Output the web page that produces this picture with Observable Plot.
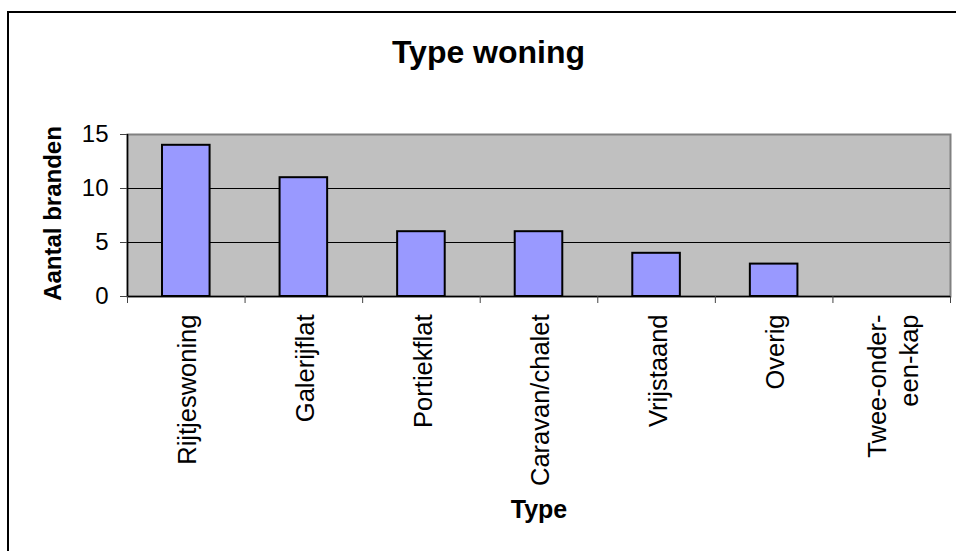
<!DOCTYPE html>
<html>
<head>
<meta charset="utf-8">
<script src="https://cdn.jsdelivr.net/npm/d3@7"></script>
<script src="https://cdn.jsdelivr.net/npm/@observablehq/plot@0.6"></script>
<style>
  html, body { margin: 0; padding: 0; background: #fff; overflow: hidden; }
  #wrap { position: relative; width: 956px; height: 551px; overflow: hidden; }
  #border { position: absolute; left: 7px; top: 11px; width: 1000px; height: 700px;
            border-left: 2px solid #000; border-top: 2px solid #000; box-sizing: border-box; }
  #title { position: absolute; left: 0; top: 36px; width: 977px; text-align: center;
           font: bold 32px "Liberation Sans", Arial, sans-serif; line-height: 32px; color: #000; }
  #chart { position: absolute; left: 0; top: 0; }
</style>
</head>
<body>
<div id="wrap">
  <div id="border"></div>
  <div id="chart"></div>
  <div id="title">Type woning</div>
</div>
<script>
const categories = ["Rijtjeswoning", "Galerijflat", "Portiekflat", "Caravan/chalet", "Vrijstaand", "Overig", "Twee-onder-\neen-kap"];
const counts = [14, 11, 6, 6, 4, 3, 0];
const yTicks = [0, 5, 10, 15];
const gridValues = [5, 10];
const yTitle = "Aantal branden";
const xTitle = "Type";

const rows = categories.map((c, i) => ({category: c, count: counts[i], i}));
const n = categories.length;

const chart = Plot.plot({
  width: 956,
  height: 551,
  marginLeft: 127,
  marginRight: 6,
  marginTop: 134,
  marginBottom: 255,
  style: {fontFamily: "'Liberation Sans', Arial, sans-serif", color: "#000", background: "transparent", overflow: "visible"},
  x: {domain: [0, n]},
  y: {domain: [0, 15]},
  marks: [
    Plot.frame({fill: "#c0c0c0", stroke: "#808080", strokeWidth: 2}),
    Plot.ruleY(gridValues, {stroke: "#000", strokeWidth: 1}),
    Plot.rectY(rows, {filter: d => d.count > 0, x1: "i", x2: d => d.i + 1, y: "count",
      insetLeft: 35, insetRight: 35, fill: "#9999ff", stroke: "#000", strokeWidth: 2}),
    Plot.ruleY([0], {stroke: "#000", strokeWidth: 1.5}),
    Plot.ruleX([0], {stroke: "#000", strokeWidth: 1.5}),
    Plot.axisY(yTicks, {tickSize: 7, tickPadding: 12, fontSize: 24, label: null, stroke: "#444"}),
    Plot.axisX(d3.range(n + 1), {tickSize: 7, tickFormat: () => "", label: null, stroke: "#444"}),
    Plot.axisX(d3.range(n).map(i => i + 0.5), {tickSize: 0, tickPadding: 18, tickRotate: -90,
      tickFormat: v => categories[Math.floor(v)], fontSize: 25.5, lineHeight: 1.25, label: null}),
    Plot.text([yTitle], {frameAnchor: "left", rotate: -90, dx: -67, dy: -2, textAnchor: "middle",
      lineAnchor: "bottom", fontSize: 24, fontWeight: "bold"}),
    Plot.text([xTitle], {frameAnchor: "bottom", dy: 221, lineAnchor: "bottom",
      fontSize: 25, fontWeight: "bold"})
  ]
});
document.getElementById("chart").append(chart);
</script>
</body>
</html>
